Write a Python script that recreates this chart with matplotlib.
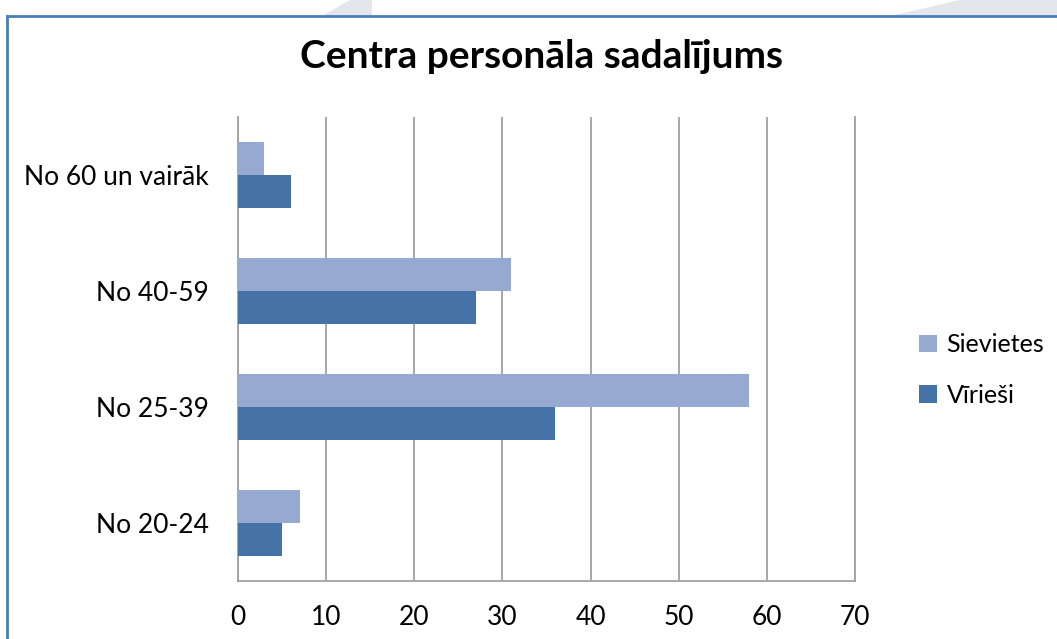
import matplotlib
matplotlib.use("Agg")
import matplotlib.pyplot as plt
from matplotlib.patches import Polygon, Patch
from matplotlib.lines import Line2D
import numpy as np

categories = ["No 20-24", "No 25-39", "No 40-59", "No 60 un vairāk"]
sievietes = [7, 58, 31, 3]
virietis = [5, 36, 27, 6]
series_names = ["Sievietes", "Vīrieši"]
xticks = [0, 10, 20, 30, 40, 50, 60, 70]
title = "Centra personāla sadalījums"

c_light = "#95A9D1"
c_dark = "#4573A7"
font = ["Lato", "DejaVu Sans"]
plt.rcParams["font.family"] = font

W, H = 1057, 639
fig = plt.figure(figsize=(W / 100, H / 100), dpi=100)
fig.patch.set_facecolor("white")

def fx(px):
    return px / W

def fy(py):
    return 1 - py / H

# faint watermark shapes above the chart border
fig.patches.append(Polygon([(fx(322), fy(16)), (fx(350), fy(0)), (fx(372), fy(0)), (fx(372), fy(16))],
                           closed=True, transform=fig.transFigure, facecolor="#E3E6EA", edgecolor="none", zorder=0))
fig.patches.append(Polygon([(fx(890), fy(16)), (fx(960), fy(0)), (fx(1057), fy(0)), (fx(1057), fy(16))],
                           closed=True, transform=fig.transFigure, facecolor="#E3E6EA", edgecolor="none", zorder=0))

# chart border (left and top)
fig.add_artist(Line2D([fx(7), fx(7)], [fy(16), 0], transform=fig.transFigure, color="#4A7EBB", lw=2))
fig.add_artist(Line2D([fx(7), 1], [fy(16), fy(16)], transform=fig.transFigure, color="#4A7EBB", lw=2))

ax = fig.add_axes([fx(238), fy(581), fx(855) - fx(238), fy(117) - fy(581)])
y = np.arange(len(categories))
h = 0.285
ax.barh(y + h / 2, sievietes, height=h, color=c_light, label=series_names[0], zorder=3)
ax.barh(y - h / 2, virietis, height=h, color=c_dark, label=series_names[1], zorder=3)

ax.set_xlim(0, 70)
ax.set_ylim(-0.5, 3.5)
ax.set_xticks(xticks)
ax.set_xticklabels([str(t) for t in xticks])
ax.set_yticks(y)
ax.set_yticklabels(categories)
ax.tick_params(axis="both", length=0, labelsize=19, colors="black")
ax.tick_params(axis="x", pad=17)
ax.tick_params(axis="y", pad=21)
ax.grid(axis="x", color="#A0A0A0", lw=1.3, zorder=1)
for s in ["left", "bottom", "right"]:
    ax.spines[s].set_color("#A0A0A0")
    ax.spines[s].set_linewidth(1.3)
ax.spines["top"].set_visible(False)

fig.text(fx(541), fy(57), title, ha="center", va="center", fontsize=28, fontweight="bold")

handles = [Patch(facecolor=c_light), Patch(facecolor=c_dark)]
fig.legend(handles, series_names, loc="center left", bbox_to_anchor=(fx(919), fy(370)),
           frameon=False, fontsize=18, handlelength=0.7, handleheight=0.7, handletextpad=0.4,
           labelspacing=1.1, borderpad=0, borderaxespad=0)

fig.savefig("out.png", dpi=100, facecolor="white")
